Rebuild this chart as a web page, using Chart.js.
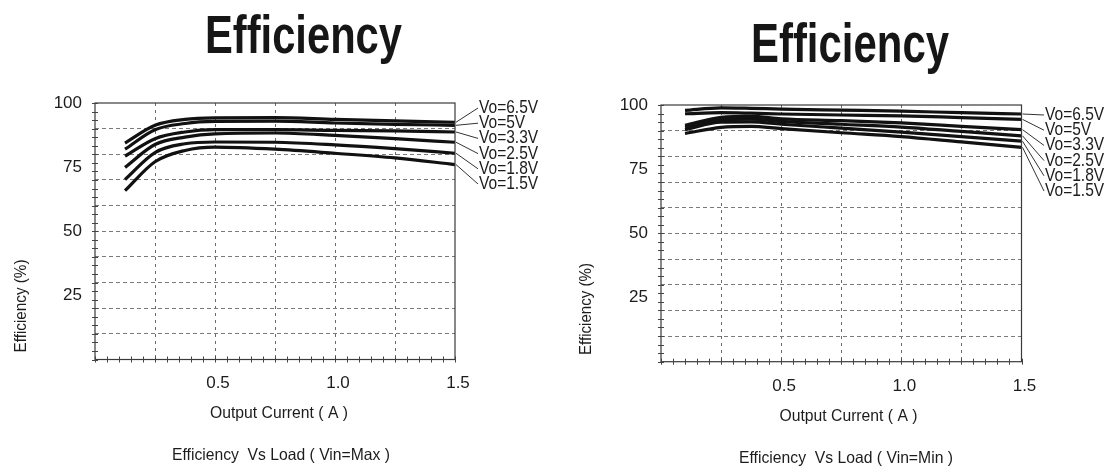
<!DOCTYPE html>
<html><head><meta charset="utf-8">
<script src="https://cdn.jsdelivr.net/npm/chart.js@4.4.1/dist/chart.umd.min.js"></script>
<style>
html,body{margin:0;padding:0;background:#fff;width:1115px;height:467px;overflow:hidden}
#c1{position:absolute;left:0;top:0}
#c2{position:absolute;left:557px;top:0}
</style></head><body>
<canvas id="c1" width="557" height="467"></canvas>
<canvas id="c2" width="558" height="467"></canvas>
<script>
// ---------- DATA ----------
const seriesLabels = ['Vo=6.5V', 'Vo=5V', 'Vo=3.3V', 'Vo=2.5V', 'Vo=1.8V', 'Vo=1.5V'];

// Vin = Max
const currentMax = [0.125, 0.25, 0.375, 0.5, 0.75, 1.0, 1.25, 1.5];
const effMax65 = [84.4, 91.3, 93.6, 94.2, 94.3, 93.6, 93.0, 92.5];
const effMax50 = [82.0, 89.6, 92.0, 92.8, 92.9, 92.2, 91.7, 91.3];
const effMax33 = [79.3, 86.1, 88.7, 89.6, 89.6, 89.3, 89.1, 88.7];
const effMax25 = [74.9, 83.8, 86.7, 88.0, 88.3, 87.4, 86.1, 84.7];
const effMax18 = [70.2, 80.7, 84.1, 84.8, 84.7, 83.7, 82.2, 80.4];
const effMax15 = [65.8, 77.1, 81.5, 82.8, 82.0, 80.4, 78.6, 76.0];

// Vin = Min
const currentMin = [0.1, 0.25, 0.375, 0.5, 0.75, 1.0, 1.25, 1.5];
const effMin65 = [97.9, 98.9, 98.7, 98.4, 98.0, 97.6, 97.0, 96.5];
const effMin50 = [96.6, 97.0, 96.8, 96.5, 96.1, 95.8, 95.1, 94.4];
const effMin33 = [92.1, 95.2, 95.6, 94.6, 93.9, 93.0, 91.7, 90.4];
const effMin25 = [91.3, 94.3, 94.5, 93.6, 92.5, 91.4, 89.7, 88.0];
const effMin18 = [90.4, 93.3, 93.4, 92.5, 91.0, 89.4, 87.7, 85.9];
const effMin15 = [88.9, 91.3, 91.7, 90.8, 89.2, 87.7, 85.6, 83.5];

// Axis ticks
const yTickLabels = [25, 50, 75, 100];
const yGridValues = [10, 20, 30, 40, 50, 60, 70, 80, 90];
const xTickLabels = [0.5, 1.0, 1.5];
const xGridValues = [0.25, 0.5, 0.75, 1.0, 1.25];
const yMinorTicks = [];
for (let k = 0; k <= 30; k++) yMinorTicks.push(k * 10 / 3);
const xMinorTicks = [];
for (let k = 0; k <= 30; k++) xMinorTicks.push(k * 0.05);

// Texts
const chartTitle = 'Efficiency';
const yAxisTitle = 'Efficiency (%)';
const xAxisTitle = 'Output Current ( A )';
const captionMax = 'Efficiency  Vs Load ( Vin=Max )';
const captionMin = 'Efficiency  Vs Load ( Vin=Min )';

// ---------- STYLE / LAYOUT ----------
const REG = '"Liberation Sans", Arial, sans-serif';
const TXT = '#1c1c1c';
const NARROW_X = 0.84;

function toXY(xs, ys) { return xs.map((x, i) => ({x: x, y: ys[i]})); }

// draws text; if targetW given, squeezes horizontally to that width, else uses sx
function drawText(ctx, text, cx, cy, font, targetW, rotate, align, sx) {
  ctx.save();
  ctx.font = font;
  const w = ctx.measureText(text).width;
  const s = targetW ? targetW / w : (sx || 1);
  ctx.translate(cx, cy);
  if (rotate) ctx.rotate(-Math.PI / 2);
  ctx.scale(s, 1);
  ctx.textAlign = align || 'center';
  ctx.textBaseline = 'middle';
  ctx.fillStyle = TXT;
  ctx.fillText(text, 0, 0);
  ctx.restore();
}

const decorPlugin = {
  id: 'decor',
  afterDraw(chart, args, o) {
    const ctx = chart.ctx;
    const a = chart.chartArea;
    const xs = chart.scales.x, ys = chart.scales.y;
    ctx.save();
    // frame
    ctx.strokeStyle = '#3a3a3a';
    ctx.lineWidth = 1.2;
    ctx.strokeRect(a.left, a.top, a.right - a.left, a.bottom - a.top);
    // minor ticks
    ctx.lineWidth = 1;
    ctx.strokeStyle = '#444';
    ctx.beginPath();
    yMinorTicks.forEach(v => {
      const y = Math.round(ys.getPixelForValue(v)) + 0.5;
      ctx.moveTo(a.left - 3, y); ctx.lineTo(a.left + 3, y);
    });
    xMinorTicks.forEach(v => {
      const x = Math.round(xs.getPixelForValue(v)) + 0.5;
      ctx.moveTo(x, a.bottom - 3); ctx.lineTo(x, a.bottom + 3);
    });
    ctx.stroke();
    // leader lines + series labels
    ctx.strokeStyle = '#333';
    ctx.lineWidth = 1;
    const lx = a.right + o.labelDx;
    chart.data.datasets.forEach((ds, i) => {
      const last = ds.data[ds.data.length - 1];
      const px = xs.getPixelForValue(last.x);
      const py = ys.getPixelForValue(last.y);
      const ly = a.top + o.labelDy0 + i * o.labelStep;
      ctx.beginPath();
      ctx.moveTo(px + 1, py);
      ctx.lineTo(lx - 1, ly + 1);
      ctx.stroke();
      drawText(ctx, ds.label, lx, ly + 1, '18.5px ' + REG, 0, false, 'left', NARROW_X);
    });
    ctx.restore();
    // big title
    ctx.save();
    ctx.font = 'bold ' + o.title.size + 'px ' + REG;
    const tw = ctx.measureText(chartTitle).width;
    ctx.translate(o.title.x, o.title.baseline);
    ctx.scale(o.title.w / tw, 1);
    ctx.textAlign = 'center';
    ctx.textBaseline = 'alphabetic';
    ctx.fillStyle = '#161616';
    ctx.fillText(chartTitle, 0, 0);
    ctx.restore();
    drawText(ctx, yAxisTitle, o.yTitle.x, o.yTitle.y, '16.5px ' + REG, o.yTitle.w, true);
    drawText(ctx, xAxisTitle, o.xTitle.x, o.xTitle.y, '16.5px ' + REG, o.xTitle.w, false);
    drawText(ctx, o.caption.text, o.caption.x, o.caption.y, '16.5px ' + REG, o.caption.w, false);
  }
};

function makeChart(id, xs, series, layout, decor) {
  const datasets = series.map((ys, i) => ({
    label: seriesLabels[i],
    data: toXY(xs, ys),
    borderColor: '#111',
    borderWidth: 3.2,
    pointRadius: 0,
    fill: false,
    cubicInterpolationMode: 'monotone'
  }));
  return new Chart(document.getElementById(id), {
    type: 'line',
    data: {datasets},
    plugins: [decorPlugin],
    options: {
      responsive: false,
      animation: false,
      events: [],
      layout: {padding: layout.padding},
      plugins: {legend: {display: false}, tooltip: {enabled: false}, title: {display: false}, decor: decor},
      scales: {
        x: {
          type: 'linear', min: 0, max: 1.5,
          afterBuildTicks: s => { s.ticks = [0, ...xGridValues, 1.5].map(v => ({value: v})); },
          afterFit: s => { s.height = layout.xAxisH; },
          ticks: {
            autoSkip: false, maxRotation: 0, padding: 14, labelOffset: 3,
            color: TXT, font: {family: REG, size: 17},
            callback: v => xTickLabels.includes(v) ? v.toFixed(1) : ''
          },
          grid: {
            drawTicks: false, lineWidth: 1,
            color: c => (c.tick && xGridValues.includes(c.tick.value)) ? '#6a6a6a' : 'rgba(0,0,0,0)'
          },
          border: {display: false, dash: [3, 4]}
        },
        y: {
          type: 'linear', min: 0, max: 100,
          afterBuildTicks: s => {
            const vals = [...new Set([0, ...yGridValues, ...yTickLabels, 100])].sort((p, q) => p - q);
            s.ticks = vals.map(v => ({value: v}));
          },
          afterFit: s => { s.width = layout.yAxisW; },
          ticks: {
            autoSkip: false, padding: 13,
            color: TXT, font: {family: REG, size: 17},
            callback: v => yTickLabels.includes(v) ? String(v) : ''
          },
          grid: {
            drawTicks: false, lineWidth: 1,
            color: c => (c.tick && yGridValues.includes(c.tick.value)) ? '#7a7a7a' : 'rgba(0,0,0,0)'
          },
          border: {display: false, dash: [4, 3]}
        }
      }
    }
  });
}

Chart.defaults.font.family = REG;

makeChart('c1', currentMax,
  [effMax65, effMax50, effMax33, effMax25, effMax18, effMax15],
  {padding: {left: 0, top: 103, right: 102, bottom: 67.5}, xAxisH: 40, yAxisW: 95},
  {
    labelDx: 24, labelDy0: 4, labelStep: 15.2,
    title: {x: 303.5, baseline: 53.3, w: 197, size: 53},
    yTitle: {x: 21.5, y: 306, w: 93},
    xTitle: {x: 279, y: 413, w: 138},
    caption: {text: captionMax, x: 281, y: 455, w: 218}
  });

makeChart('c2', currentMin,
  [effMin65, effMin50, effMin33, effMin25, effMin18, effMin15],
  {padding: {left: 0, top: 105, right: 93.5, bottom: 65.3}, xAxisH: 40, yAxisW: 104},
  {
    labelDx: 23.5, labelDy0: 9, labelStep: 15.2,
    title: {x: 293, baseline: 61.7, w: 198, size: 55.5},
    yTitle: {x: 29.5, y: 309, w: 92},
    xTitle: {x: 291.5, y: 416, w: 138},
    caption: {text: captionMin, x: 289, y: 458, w: 214}
  });
</script>
</body></html>
